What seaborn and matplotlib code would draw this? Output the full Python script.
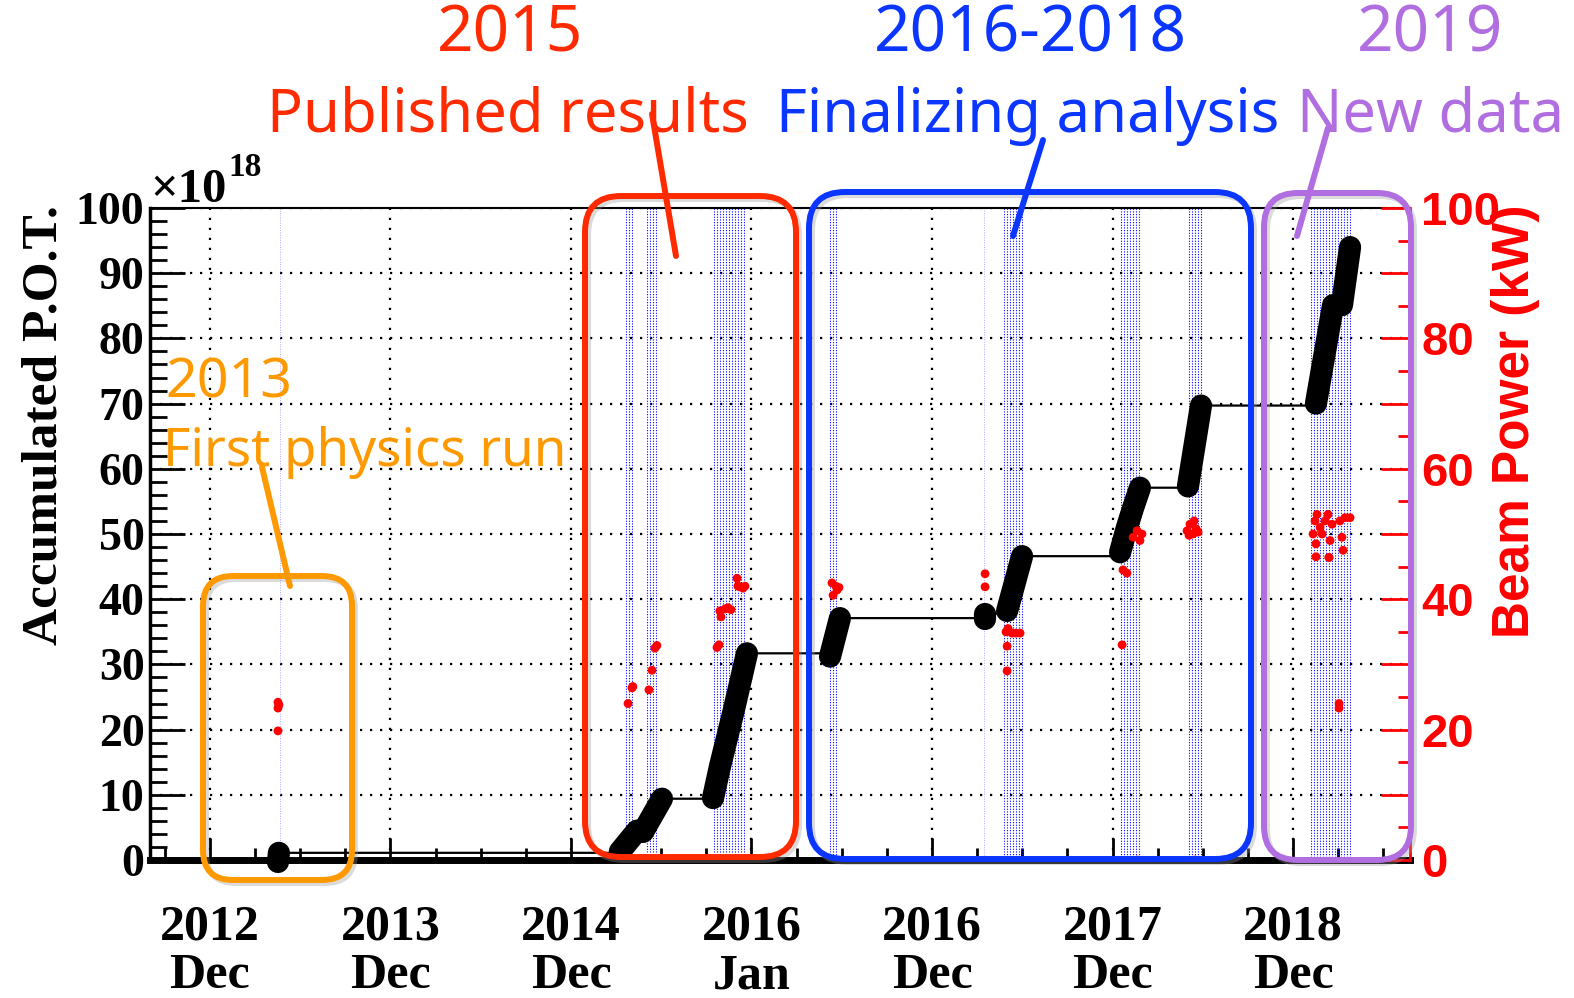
import numpy as np
import pandas as pd
import matplotlib
matplotlib.use("Agg")
import matplotlib.pyplot as plt
import seaborn as sns
from matplotlib.patches import FancyBboxPatch
from matplotlib.lines import Line2D
from matplotlib.ticker import MultipleLocator, FuncFormatter
from matplotlib.transforms import IdentityTransform

# %% Data (x in tick units: 0 = 2012 Dec, 1 = 2013 Dec, ...)
tick_labels = ["2012\nDec", "2013\nDec", "2014\nDec", "2016\nJan",
               "2016\nDec", "2017\nDec", "2018\nDec"]

# accumulated P.O.T. (x1e18) during each run period
run_t = [
    [0.377, 0.382],
    [2.271, 2.366],
    [2.399, 2.504],
    [2.787, 2.825, 2.898, 2.975],
    [3.435, 3.490],
    [4.294, 4.294],
    [4.416, 4.499],
    [5.042, 5.080, 5.114, 5.152],
    [5.418, 5.490],
    [6.127, 6.222],
    [6.271, 6.316],
]
run_pot = [
    [-0.3, 1.1],
    [1.3, 4.5],
    [4.3, 9.4],
    [9.5, 14.3, 22.5, 31.7],
    [31.2, 37.1],
    [37.0, 37.8],
    [38.2, 46.6],
    [47.2, 51.0, 54.0, 57.1],
    [57.3, 69.7],
    [70.0, 85.1],
    [85.1, 94.0],
]

# beam power (kW)
power_t = [0.377, 0.382, 0.377, 0.377,
           2.316, 2.338, 2.343, 2.432, 2.449, 2.465, 2.476,
           2.809, 2.820, 2.825, 2.831, 2.853, 2.870, 2.886, 2.920, 2.925, 2.936, 2.953, 2.964,
           3.446, 3.452, 3.468, 3.474, 3.485,
           4.294, 4.294, 4.410, 4.416, 4.416, 4.421, 4.443, 4.465, 4.488,
           5.053, 5.058, 5.080, 5.114, 5.136, 5.152, 5.163, 5.136,
           5.413, 5.424, 5.429, 5.446, 5.452, 5.463, 5.474, 5.457,
           6.111, 6.122, 6.127, 6.133, 6.150, 6.161, 6.177, 6.194, 6.199, 6.205, 6.216,
           6.127, 6.199, 6.260, 6.288, 6.316, 6.271, 6.277, 6.255, 6.255]
power_kw = [23.3, 23.8, 24.2, 19.8,
            24.0, 26.4, 26.6, 26.1, 29.1, 32.5, 32.9,
            32.6, 33.0, 38.2, 37.3, 38.5, 38.7, 38.4, 43.2, 42.0, 41.9, 41.7, 42.0,
            42.5, 40.6, 42.0, 41.4, 41.8,
            43.9, 41.9, 35.0, 32.8, 29.0, 35.5, 34.8, 34.8, 34.8,
            33.0, 44.5, 44.0, 49.5, 50.5, 49.0, 50.0, 0.0,
            50.5, 49.8, 51.5, 50.0, 52.0, 50.8, 50.3, 0.0,
            50.0, 52.0, 48.5, 53.0, 51.0, 50.0, 52.0, 53.0, 46.4, 49.0, 51.5,
            46.5, 46.4, 52.0, 52.5, 52.5, 49.5, 47.5, 23.3, 24.0]

# beam-on periods (blue dotted bands)
band_start = [2.305, 2.421, 2.792, 3.435, 4.399, 5.047, 5.424, 6.100]
band_end = [2.349, 2.482, 2.964, 3.479, 4.499, 5.152, 5.501, 6.327]
single_t = [0.388, 4.288]

# %% Frames for seaborn
runs = pd.DataFrame({
    "t": [t for r in run_t for t in r],
    "pot": [p for r in run_pot for p in r],
    "run": [i for i, r in enumerate(run_t) for _ in r],
})
thin_t, thin_p = [], []
for i in range(len(run_t) - 1):
    thin_t += [run_t[i][-1], run_t[i + 1][0]]
    thin_p += [run_pot[i][-1], run_pot[i][-1]]
thin = pd.DataFrame({"t": thin_t, "pot": thin_p})
power = pd.DataFrame({"t": power_t, "kw": power_kw})

# %% Style
sns.set_theme(style="white")
plt.rcParams["font.family"] = ["Liberation Serif", "DejaVu Serif"]
plt.rcParams["font.weight"] = "bold"
plt.rcParams["text.color"] = "black"
plt.rcParams["xtick.color"] = "black"
plt.rcParams["ytick.color"] = "black"
plt.rcParams["axes.labelcolor"] = "black"

W, H = 1574, 998
fig = plt.figure(figsize=(W / 100, H / 100), dpi=100)
ax = fig.add_axes([150 / W, (H - 860) / H, 1260 / W, 652 / H])
ax.set_xlim(-0.332, 6.648)
ax.set_ylim(0, 100)

# bands of blue dotted lines
for a, b in zip(band_start, band_end):
    ax.vlines(np.arange(a, b, 0.0166), 0, 100, colors="#0000ff",
              linestyles=(0, (1, 1.4)), lw=0.8, zorder=1)
ax.vlines(single_t, 0, 100, colors="#8888ff", linestyles=(0, (1, 1.5)),
          lw=0.7, alpha=0.7, zorder=1)

# accumulated POT
sns.lineplot(data=thin, x="t", y="pot", color="black", lw=1.6, sort=False,
             estimator=None, ax=ax, zorder=3)
sns.lineplot(data=runs, x="t", y="pot", units="run", estimator=None, sort=False,
             color="black", lw=16, solid_capstyle="round", clip_on=False,
             ax=ax, zorder=4)

ax.set_xticks(range(len(tick_labels)))
ax.set_xticklabels(tick_labels, fontsize=36, fontweight="bold", linespacing=1.08,
                   color="black")
ax.xaxis.set_minor_locator(MultipleLocator(0.25))
ax.yaxis.set_major_locator(MultipleLocator(10))
ax.yaxis.set_minor_locator(MultipleLocator(2))
ax.tick_params(axis="y", which="major", direction="in", length=25, width=2,
               labelsize=33, pad=4, color="black", labelcolor="black", left=True)
ax.tick_params(axis="y", which="minor", direction="in", length=12, width=2, left=True)
ax.tick_params(axis="x", which="major", direction="in", length=16, width=2,
               pad=32, color="black", labelcolor="black", bottom=True)
ax.tick_params(axis="x", which="minor", direction="in", length=8.5, width=2, bottom=True)
for lab in ax.get_yticklabels():
    lab.set_fontweight("bold")
ax.grid(True, which="major", color="black", linestyle=(0, (1, 3.5)), lw=1.6)
ax.set_xlabel("")
ax.set_ylabel("")
ax.spines["left"].set_linewidth(2.5)
ax.spines["bottom"].set_linewidth(5)
ax.spines["top"].set_linewidth(1.5)
ax.spines["right"].set_visible(False)
for s in ["left", "bottom", "top"]:
    ax.spines[s].set_color("black")

# beam power on the right axis
ax2 = ax.twinx()
ax2.set_ylim(0, 100)
sns.scatterplot(data=power, x="t", y="kw", color="#ff0000", s=40,
                edgecolor="none", ax=ax2, zorder=5)
ax2.set_xlim(-0.332, 6.648)
ax2.set_ylabel("")
ax2.yaxis.set_major_locator(MultipleLocator(10))
ax2.yaxis.set_minor_locator(MultipleLocator(5))
ax2.yaxis.set_major_formatter(FuncFormatter(lambda v, p: f"{v:.0f}" if round(v) % 20 == 0 else ""))
ax2.tick_params(axis="y", which="major", direction="in", length=21, width=2,
                colors="#ff0000", labelsize=34, pad=8, right=True)
ax2.tick_params(axis="y", which="minor", direction="in", length=9, width=2,
                color="#ff0000", right=True)
for lab in ax2.get_yticklabels():
    lab.set_family(["Liberation Sans", "DejaVu Sans"])
    lab.set_fontweight("bold")
for s in ["left", "bottom", "top"]:
    ax2.spines[s].set_visible(False)
ax2.spines["right"].set_color("#ff0000")
ax2.spines["right"].set_linewidth(2)

# axis titles
fig.text(45 / W, 1 - 425 / H, "Accumulated P.O.T.", rotation=90, ha="center",
         va="center", fontsize=37, fontweight="bold")
fig.text(150 / W, 1 - 202 / H, "×10", ha="left", va="baseline", fontsize=35,
         fontweight="bold")
fig.text(228 / W, 1 - 176 / H, "18", ha="left", va="baseline", fontsize=24,
         fontweight="bold")
fig.text(1515 / W, 1 - 421 / H, "Beam Power (kW)", rotation=90, ha="center",
         va="center", fontsize=37, fontweight="bold", color="#ff0000",
         family=["Liberation Sans", "DejaVu Sans"])

# %% Overlay annotations (figure pixels)
ident = IdentityTransform()


def box(x0, y0, x1, y1, color, r):
    shadow = FancyBboxPatch((x0 + 3, H - y1 - 3), x1 - x0, y1 - y0,
                            boxstyle=f"round,pad=0,rounding_size={r}",
                            transform=ident, fill=False, ec="#999999",
                            lw=4.3, alpha=0.35, zorder=20)
    fig.add_artist(shadow)
    p = FancyBboxPatch((x0, H - y1), x1 - x0, y1 - y0,
                       boxstyle=f"round,pad=0,rounding_size={r}",
                       transform=ident, fill=False, ec=color, lw=4.3, zorder=21)
    fig.add_artist(p)


def pointer(xa, ya, xb, yb, color):
    fig.add_artist(Line2D([xa, xb], [H - ya, H - yb], transform=ident,
                          color=color, lw=4.3, zorder=21))


def label(x, y, s, color, size, ha="left"):
    fig.text(x / W, 1 - y / H, s, color=color, fontsize=size, ha=ha,
             va="baseline", family=["Noto Sans", "DejaVu Sans"],
             fontweight="medium", zorder=22)


orange, red, blue, purple = "#ff9900", "#ff2a00", "#0a36ff", "#b06ee0"

box(203, 576, 352, 880, orange, 30)
box(585, 196, 796, 857, red, 36)
box(809, 192, 1251, 859, blue, 36)
box(1264, 193, 1411, 860, purple, 34)

pointer(262, 467, 290, 586, orange)
pointer(652, 114, 676, 256, red)
pointer(1043, 140, 1013, 236, blue)
pointer(1328, 128, 1297, 236, purple)

label(165, 397, "2013", orange, 40)
label(163, 466, "First physics run", orange, 38)
label(510, 52, "2015", red, 46, ha="center")
label(508, 132, "Published results", red, 43, ha="center")
label(1030, 52, "2016-2018", blue, 46, ha="center")
label(1028, 132, "Finalizing analysis", blue, 43, ha="center")
label(1430, 52, "2019", purple, 46, ha="center")
label(1297, 132, "New data", purple, 43)

fig.savefig("out.png", dpi=100)
